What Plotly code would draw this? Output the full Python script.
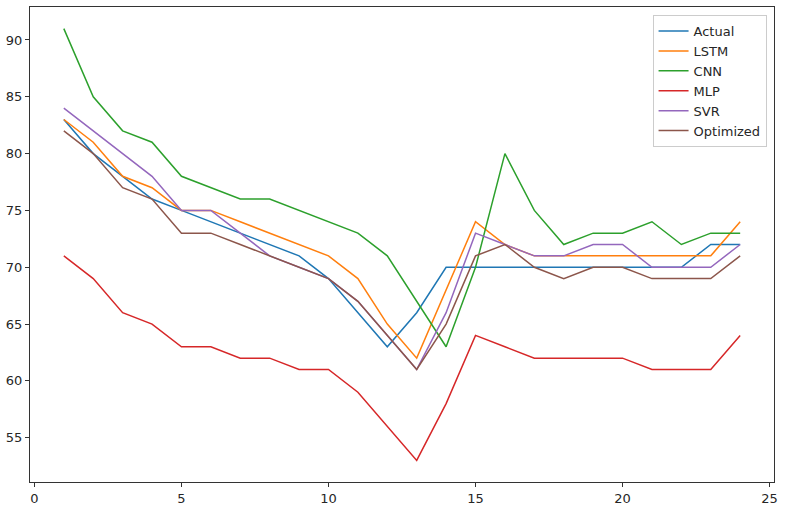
import plotly.graph_objects as go

# time steps 1..24
steps = list(range(1, 25))

actual = [83, 80, 78, 76, 75, 74, 73, 72, 71, 69, 66, 63, 66, 70, 70, 70, 70, 70, 70, 70, 70, 70, 72, 72]
lstm = [83, 81, 78, 77, 75, 75, 74, 73, 72, 71, 69, 65, 62, 68, 74, 72, 71, 71, 71, 71, 71, 71, 71, 74]
cnn = [91, 85, 82, 81, 78, 77, 76, 76, 75, 74, 73, 71, 67, 63, 70, 80, 75, 72, 73, 73, 74, 72, 73, 73]
mlp = [71, 69, 66, 65, 63, 63, 62, 62, 61, 61, 59, 56, 53, 58, 64, 63, 62, 62, 62, 62, 61, 61, 61, 64]
svr = [84, 82, 80, 78, 75, 75, 73, 71, 70, 69, 67, 64, 61, 66, 73, 72, 71, 71, 72, 72, 70, 70, 70, 72]
optimized = [82, 80, 77, 76, 73, 73, 72, 71, 70, 69, 67, 64, 61, 65, 71, 72, 70, 69, 70, 70, 69, 69, 69, 71]

series = [
    ("Actual", actual, "#1f77b4"),
    ("LSTM", lstm, "#ff7f0e"),
    ("CNN", cnn, "#2ca02c"),
    ("MLP", mlp, "#d62728"),
    ("SVR", svr, "#9467bd"),
    ("Optimized", optimized, "#8c564b"),
]

fig = go.Figure()
for name, vals, color in series:
    fig.add_trace(go.Scatter(x=steps, y=vals, mode="lines", name=name,
                             line=dict(color=color, width=1.5)))

axis_style = dict(showline=True, mirror=True, linecolor="#333333", linewidth=1,
                  ticks="outside", ticklen=4, tickcolor="#333333", showgrid=False,
                  zeroline=False, tickfont=dict(size=13, color="#262626"))

fig.update_xaxes(range=[-0.15, 25.15], tickvals=[0, 5, 10, 15, 20, 25], **axis_style)
fig.update_yaxes(range=[51.1, 92.9], tickvals=[55, 60, 65, 70, 75, 80, 85, 90], **axis_style)

fig.update_layout(
    width=787, height=512,
    margin=dict(l=30, r=13, t=7, b=30, autoexpand=False),
    plot_bgcolor="white", paper_bgcolor="white",
    font=dict(family="DejaVu Sans", size=13, color="#262626"),
    legend=dict(x=0.99, y=0.983, xanchor="right", yanchor="top",
                bordercolor="#cccccc", borderwidth=1, bgcolor="rgba(255,255,255,0.8)",
                font=dict(size=13), tracegroupgap=0),
)

# drop the page's default body margin so the figure sits at the window corner
fig.write_html("out.html", config={"displayModeBar": False},
               post_script="document.body.style.margin='0';")
